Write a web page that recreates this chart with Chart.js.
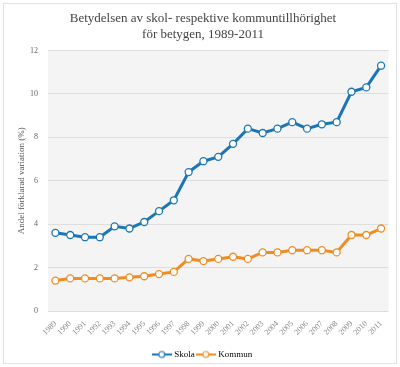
<!DOCTYPE html>
<html>
<head>
<meta charset="utf-8">
<script src="https://cdn.jsdelivr.net/npm/chart.js@4"></script>
<style>
  html, body { margin: 0; padding: 0; background: #fff; }
  #wrap { position: absolute; left: 3px; top: 3px; width: 392px; height: 359px; border: 1px solid #e2e2e2; }
  canvas { display: block; }
</style>
</head>
<body>
<div id="wrap"><canvas id="chart" width="392" height="359"></canvas></div>
<script>
const years = ['1989','1990','1991','1992','1993','1994','1995','1996','1997','1998','1999','2000',
  '2001','2002','2003','2004','2005','2006','2007','2008','2009','2010','2011'];
const skola = [3.6, 3.5, 3.4, 3.4, 3.9, 3.8, 4.1, 4.6, 5.1, 6.4, 6.9, 7.1,
  7.7, 8.4, 8.2, 8.4, 8.7, 8.4, 8.6, 8.7, 10.1, 10.3, 11.3];
const kommun = [1.4, 1.5, 1.5, 1.5, 1.5, 1.55, 1.6, 1.7, 1.8, 2.4, 2.3, 2.4,
  2.5, 2.4, 2.7, 2.7, 2.8, 2.8, 2.8, 2.7, 3.5, 3.5, 3.8];

const blue = '#1b76b6';
const orange = '#ef8d22';
const serif = "'Liberation Serif', 'DejaVu Serif', serif";

// legend marker: short line with a hollow circle in the middle
function legendIcon(color) {
  const c = document.createElement('canvas');
  c.width = 20; c.height = 10;
  const g = c.getContext('2d');
  g.strokeStyle = color;
  g.lineWidth = 2;
  g.beginPath(); g.moveTo(0, 5); g.lineTo(20, 5); g.stroke();
  g.fillStyle = '#fff';
  g.lineWidth = 1.2;
  g.beginPath(); g.arc(10, 5, 3, 0, Math.PI * 2); g.fill(); g.stroke();
  return c;
}

const plotBg = {
  id: 'plotBg',
  beforeDraw(chart) {
    const a = chart.chartArea, ctx = chart.ctx;
    ctx.save();
    ctx.fillStyle = '#f4f4f4';
    ctx.fillRect(a.left, a.top, a.right - a.left, a.bottom - a.top);
    ctx.restore();
  }
};

function series(label, data, color) {
  return {
    label, data,
    borderColor: color,
    backgroundColor: '#fff',
    borderWidth: 3,
    pointRadius: 3.5,
    pointBorderWidth: 1.3,
    pointBackgroundColor: '#fff',
    pointBorderColor: color,
    tension: 0
  };
}

new Chart(document.getElementById('chart'), {
  type: 'line',
  data: {
    labels: years,
    datasets: [series('Skola', skola, blue), series('Kommun', kommun, orange)]
  },
  options: {
    responsive: false,
    animation: false,
    layout: { padding: { left: 12, right: 6, top: 0, bottom: -6 } },
    plugins: {
      title: {
        display: true,
        text: ['Betydelsen av skol- respektive kommuntillhörighet', 'för betygen, 1989-2011'],
        color: '#444',
        font: { family: serif, size: 13, weight: 'normal', lineHeight: 1.25 },
        padding: { top: 6, bottom: 8 }
      },
      legend: {
        position: 'bottom',
        labels: {
          usePointStyle: true,
          pointStyleWidth: 16,
          color: '#555',
          font: { family: serif, size: 9 },
          padding: 3,
          generateLabels(chart) {
            return chart.data.datasets.map((ds, i) => ({
              text: ds.label,
              pointStyle: legendIcon(ds.borderColor),
              fillStyle: ds.borderColor,
              strokeStyle: ds.borderColor,
              lineWidth: 0,
              datasetIndex: i,
              hidden: false
            }));
          }
        }
      },
      tooltip: { enabled: false }
    },
    scales: {
      x: {
        offset: true,
        afterFit(scale) { scale.height = 36; },
        grid: { display: false, drawTicks: false },
        border: { display: false },
        ticks: {
          color: '#888',
          font: { family: serif, size: 8 },
          maxRotation: 45,
          minRotation: 45,
          autoSkip: false,
          padding: 8
        }
      },
      y: {
        min: 0,
        max: 12,
        afterFit(scale) { scale.width = 32; },
        ticks: {
          stepSize: 2,
          color: '#666',
          font: { family: serif, size: 8 },
          padding: 10
        },
        grid: { color: '#dedede', drawTicks: false, lineWidth: 1 },
        border: { display: false },
        title: {
          display: true,
          text: 'Andel förklarad variation (%)',
          color: '#555',
          font: { family: serif, size: 9 },
          padding: { top: 0, bottom: 4 }
        }
      }
    }
  },
  plugins: [plotBg]
});
</script>
</body>
</html>
